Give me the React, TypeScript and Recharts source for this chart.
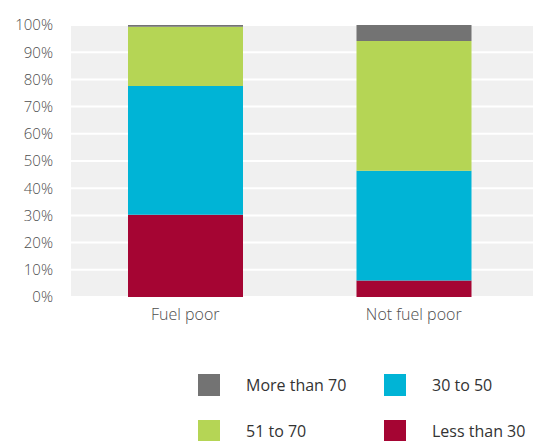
import React from "react";
import { BarChart, Bar, XAxis, YAxis, CartesianGrid, Legend } from "recharts";

// Share of households by band, per fuel-poverty status
const categories = ["Fuel poor", "Not fuel poor"];
const lessThan30 = [30.2, 6.1];
const from30to50 = [47.4, 40.3];
const from51to70 = [21.8, 47.7];
const moreThan70 = [0.6, 5.9];
const yTicks = [0, 10, 20, 30, 40, 50, 60, 70, 80, 90, 100];

const series = [
  { key: "lessThan30", name: "Less than 30", color: "#a50533", values: lessThan30 },
  { key: "from30to50", name: "30 to 50", color: "#00b4d6", values: from30to50 },
  { key: "from51to70", name: "51 to 70", color: "#b5d555", values: from51to70 },
  { key: "moreThan70", name: "More than 70", color: "#737373", values: moreThan70 },
];

const data = categories.map((name, i) => {
  const row: Record<string, string | number> = { name };
  series.forEach((s) => {
    row[s.key] = s.values[i];
  });
  return row;
});

// Legend laid out as a 2x2 grid: top-left, top-right, bottom-left, bottom-right
const legendOrder = ["moreThan70", "from30to50", "from51to70", "lessThan30"];

const FONT = "'Open Sans', 'Noto Sans', sans-serif";

function LegendGrid() {
  return (
    <div
      style={{
        display: "grid",
        gridTemplateColumns: "186px 149px",
        gridAutoRows: "22px",
        rowGap: 24,
        fontFamily: FONT,
        fontSize: 16,
        lineHeight: "16px",
        color: "#333",
      }}
    >
      {legendOrder.map((k) => {
        const s = series.find((x) => x.key === k)!;
        return (
          <div key={k} style={{ display: "flex", alignItems: "center", height: 22 }}>
            <span
              style={{
                display: "inline-block",
                width: 22,
                height: 22,
                background: s.color,
                marginRight: 26,
                flexShrink: 0,
              }}
            />
            <span>{s.name}</span>
          </div>
        );
      })}
    </div>
  );
}

export default function App() {
  return (
    <div style={{ position: "absolute", left: 0, top: 0, width: 533, height: 441, overflow: "hidden" }}>
      <BarChart
        width={533}
        height={441}
        data={data}
        margin={{ top: 25, right: 0, left: 8, bottom: 114 }}
        style={{ fontFamily: FONT }}
      >
        <CartesianGrid vertical={false} fill="#f0f0f0" stroke="#ffffff" strokeWidth={2} />
        <XAxis
          dataKey="name"
          axisLine={false}
          tickLine={false}
          tickSize={0}
          tickMargin={12}
          height={30}
          padding={{ left: 0, right: 5 }}
          tick={{ fill: "#4d4d4d", fontSize: 16, fontWeight: 300 }}
        />
        <YAxis
          domain={[0, 100]}
          ticks={yTicks}
          interval={0}
          width={63}
          axisLine={false}
          tickLine={false}
          tickSize={0}
          tickMargin={18}
          tickFormatter={(v) => `${v}%`}
          tick={{ fill: "#4d4d4d", fontSize: 15, fontWeight: 300 }}
        />
        {series.map((s) => (
          <Bar
            key={s.key}
            dataKey={s.key}
            name={s.name}
            stackId="a"
            fill={s.color}
            barSize={115}
            isAnimationActive={false}
          />
        ))}
        <Legend
          layout="horizontal"
          verticalAlign="middle"
          content={() => <LegendGrid />}
          wrapperStyle={{ top: 374, left: 198, width: 335, height: 66 }}
        />
      </BarChart>
    </div>
  );
}
